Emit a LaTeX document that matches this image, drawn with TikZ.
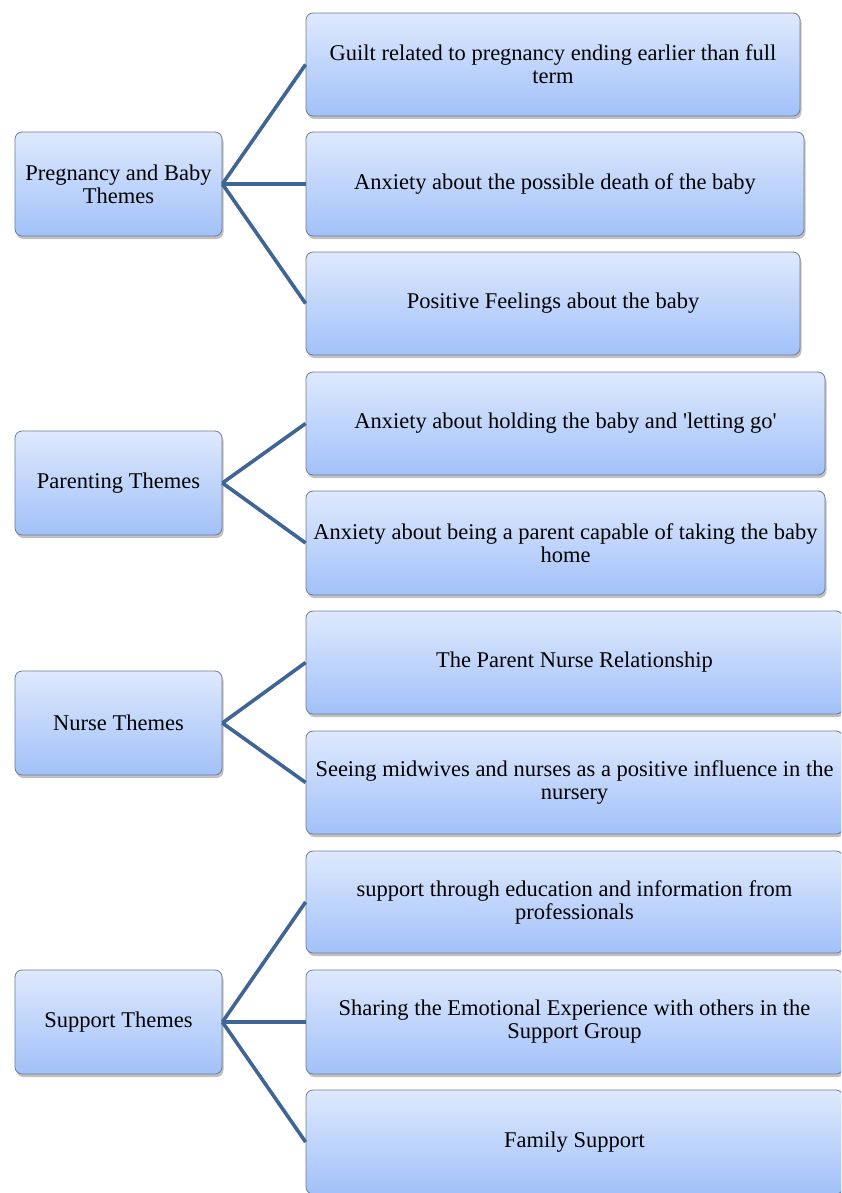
\documentclass[tikz,border=0pt]{standalone}
\usepackage{fontspec}
\setmainfont{Liberation Serif}
\usetikzlibrary{shadows}
\definecolor{boxtop}{HTML}{DEE9FD}
\definecolor{boxbot}{HTML}{A2C1F9}
\definecolor{boxline}{HTML}{6E7C92}
\definecolor{linkcol}{HTML}{3F6496}
\tikzset{
  themebox/.style={rounded corners=7pt, draw=boxline, line width=0.8pt,
    top color=boxtop, bottom color=boxbot,
    drop shadow={shadow xshift=1.5pt, shadow yshift=-3pt, opacity=0.35, fill=black!70},
    align=center, inner sep=2pt,
    font=\fontsize{22.5}{23}\selectfont},
  link/.style={draw=linkcol, line width=3.6pt}
}
\begin{document}
\begin{tikzpicture}[x=1pt,y=-1pt]
\useasboundingbox (0,0) rectangle (841,1193);
\begin{scope}
\clip (0,0) rectangle (841,1193);
% left boxes
\node[themebox, minimum width=207pt, minimum height=104pt] (L1) at (118.5,184) {Pregnancy and Baby\\Themes};
\node[themebox, minimum width=207pt, minimum height=104pt] (L2) at (118.5,483) {Parenting Themes};
\node[themebox, minimum width=207pt, minimum height=104pt] (L3) at (118.5,723) {Nurse Themes};
\node[themebox, minimum width=207pt, minimum height=104pt] (L4) at (118.5,1022) {Support Themes};
% right boxes
\node[themebox, minimum width=494pt, minimum height=103pt] (R1) at (553,64.5) {Guilt related to pregnancy ending earlier than full\\term};
\node[themebox, minimum width=498pt, minimum height=104pt] (R2) at (555,184) {Anxiety about the possible death of the baby};
\node[themebox, minimum width=494pt, minimum height=103pt] (R3) at (553,303.5) {Positive Feelings about the baby};
\node[themebox, minimum width=519pt, minimum height=103pt] (R4) at (565.5,423.5) {Anxiety about holding the baby and \textquotesingle letting go\textquotesingle};
\node[themebox, minimum width=519pt, minimum height=104pt] (R5) at (565.5,543) {Anxiety about being a parent capable of taking the baby\\home};
\node[themebox, minimum width=537pt, minimum height=103pt] (R6) at (574.5,662.5) {The Parent Nurse Relationship};
\node[themebox, minimum width=537pt, minimum height=103pt] (R7) at (574.5,782.5) {Seeing midwives and nurses as a positive influence in the\\nursery};
\node[themebox, minimum width=537pt, minimum height=102pt] (R8) at (574.5,902) {support through education and information from\\professionals};
\node[themebox, minimum width=537pt, minimum height=104pt] (R9) at (574.5,1022) {Sharing the Emotional Experience with others in the\\Support Group};
\node[themebox, minimum width=537pt, minimum height=104pt] (R10) at (574.5,1142) {Family Support};
% connectors
\draw[link] (L1.east) -- (R1.west);
\draw[link] (L1.east) -- (R2.west);
\draw[link] (L1.east) -- (R3.west);
\draw[link] (L2.east) -- (R4.west);
\draw[link] (L2.east) -- (R5.west);
\draw[link] (L3.east) -- (R6.west);
\draw[link] (L3.east) -- (R7.west);
\draw[link] (L4.east) -- (R8.west);
\draw[link] (L4.east) -- (R9.west);
\draw[link] (L4.east) -- (R10.west);
\end{scope}
\end{tikzpicture}
\end{document}
